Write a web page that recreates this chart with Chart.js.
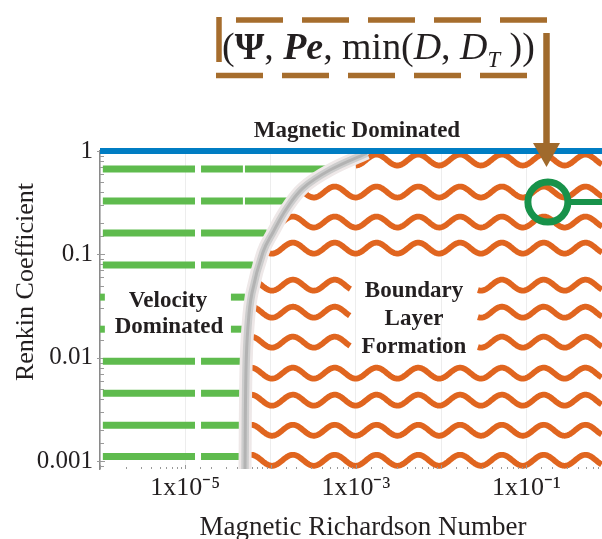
<!DOCTYPE html>
<html><head><meta charset="utf-8">
<script src="https://cdn.jsdelivr.net/npm/chart.js@4.4.1/dist/chart.umd.min.js"></script>
<style>html,body{margin:0;padding:0;background:#fff;} #wrap{width:602px;height:539px;position:relative;}</style>
</head><body><div id="wrap"><canvas id="c"></canvas></div>
<script>
// ---- axis ranges and tick labels ----
const xMin = 1e-6, xMax = 0.77;
const yMin = 0.00084, yMax = 1;
const xTickValues = [1e-5, 1e-3, 1e-1];
const xTickLabels = ['1x10⁻⁵', '1x10⁻³', '1x10⁻¹'];
const yTickValues = [1, 0.1, 0.01, 0.001];
const yTickLabels = ['1', '0.1', '0.01', '0.001'];
const xTitle = 'Magnetic Richardson Number';
const yTitle = 'Renkin Coefficient';

// ---- magnetic dominated boundary ----
const magneticLevel = 1;

// ---- velocity dominated (green dashes) ----
const greenLevels = [0.669, 0.328, 0.161, 0.0788, 0.0386, 0.0189, 0.00927, 0.00454, 0.00223, 0.00111];
const greenSegments = [
  [[1.08e-6, 1.30e-5], [1.53e-5, 4.74e-5], [5.01e-5, 5.0e-4]],
  [[1.08e-6, 1.30e-5], [1.53e-5, 4.74e-5], [5.01e-5, 1.6e-4]],
  [[1.08e-6, 1.30e-5], [1.53e-5, 9.0e-5]],
  [[1.08e-6, 1.30e-5], [1.53e-5, 6.2e-5]],
  [[1.0e-6, 1.14e-6], [3.43e-5, 5.0e-5]],
  [[1.0e-6, 1.14e-6], [3.43e-5, 5.0e-5]],
  [[1.08e-6, 1.30e-5], [1.53e-5, 4.4e-5]],
  [[1.08e-6, 1.30e-5], [1.53e-5, 4.4e-5]],
  [[1.08e-6, 1.30e-5], [1.53e-5, 4.4e-5]],
  [[1.08e-6, 1.30e-5], [1.53e-5, 4.4e-5]]
];

// ---- boundary layer formation (orange waves) ----
const waveLevels = [0.818, 0.401, 0.2055, 0.115, 0.0504, 0.0276, 0.01416, 0.0071, 0.00389, 0.00199, 0.00102];
const waveSegments = [
  [[1.0e-3, xMax]],
  [[2.18e-4, xMax]],
  [[1.26e-4, xMax]],
  [[8.6e-5, xMax]],
  [[6.3e-5, 8.53e-4], [0.027, xMax]],
  [[5.7e-5, 8.53e-4], [0.027, xMax]],
  [[5.3e-5, 8.53e-4], [0.027, xMax]],
  [[5.1e-5, xMax]],
  [[5.1e-5, xMax]],
  [[5.1e-5, xMax]],
  [[5.1e-5, xMax]]
];

// ---- transition curve (gray) ----
const curveX = [1.35e-3, 4.97e-4, 2.40e-4, 1.56e-4, 1.07e-4, 8.15e-5, 6.05e-5, 5.43e-5, 5.15e-5, 5.01e-5];
const curveY = [0.956, 0.655, 0.438, 0.281, 0.164, 0.105, 0.0422, 0.0198, 0.00759, 0.0008];

// ---- marked operating point ----
const markerX = [0.1786];
const markerY = [0.321];
const stemX = [0.3236, xMax];

const SERIF = "'Liberation Serif', 'Times New Roman', serif";
const GREEN = '#5fbb4e', ORANGE = '#e0651f', BLUE = '#007dc3', DARKGREEN = '#18924a', BROWN = '#a66d2d';
const TXT = '#231f20';

function isMajor(v) { const l = Math.log10(v); return Math.abs(l - Math.round(l)) < 1e-6; }
function labelFor(v, vals, labs) {
  const k = vals.findIndex(t => Math.abs(Math.log10(t) - Math.log10(v)) < 1e-6);
  return k >= 0 ? labs[k] : '';
}

const datasets = [];
greenLevels.forEach((lv, i) => greenSegments[i].forEach(([a, b]) => datasets.push({
  data: [{x: a, y: lv}, {x: b, y: lv}], borderColor: GREEN, borderWidth: 7,
  pointRadius: 0, borderCapStyle: 'butt', order: 10
})));
const curveData = curveX.map((v, i) => ({x: v, y: curveY[i]}));
[['#eee8e8', 13], ['#cdcdcd', 7.5], ['#b3b3b3', 3]].forEach(([c, w], j) => datasets.push({
  data: curveData, borderColor: c, borderWidth: w, tension: 0.4, pointRadius: 0, clip: 0, order: 7 - j
}));
datasets.push({data: [{x: xMin, y: magneticLevel}, {x: xMax, y: magneticLevel}], borderColor: BLUE, borderWidth: 6, pointRadius: 0, clip: 10, order: 2});
datasets.push({data: [{x: stemX[0], y: markerY[0]}, {x: stemX[1], y: markerY[0]}], borderColor: DARKGREEN, borderWidth: 6, pointRadius: 0, borderCapStyle: 'butt', order: 1});
datasets.push({data: [{x: markerX[0], y: markerY[0]}], showLine: false, pointRadius: 20, pointHoverRadius: 20,
  pointBorderWidth: 7, pointBorderColor: DARKGREEN, pointBackgroundColor: 'rgba(0,0,0,0)', order: 0});

const wavePlugin = {
  id: 'waves',
  beforeDatasetsDraw(chart) {
    const {ctx, scales: {x, y}, chartArea: ca} = chart;
    const AMP = 5.5, PERIOD = 41.8, PHASE = 272;
    ctx.save();
    ctx.beginPath(); ctx.rect(ca.left, ca.top - 10, ca.width, ca.height + 10); ctx.clip();
    ctx.strokeStyle = ORANGE; ctx.lineWidth = 5.8; ctx.lineJoin = 'round'; ctx.lineCap = 'butt';
    waveLevels.forEach((lv, i) => {
      const py = y.getPixelForValue(lv);
      waveSegments[i].forEach(([a, b]) => {
        const p0 = x.getPixelForValue(a), p1 = x.getPixelForValue(b);
        ctx.beginPath();
        for (let px = p0; px <= p1 + 0.5; px += 1) {
          const yy = py + AMP * Math.cos(2 * Math.PI * (px - PHASE) / PERIOD);
          if (px === p0) ctx.moveTo(px, yy); else ctx.lineTo(px, yy);
        }
        ctx.stroke();
      });
    });
    ctx.restore();
    // inner ticks
    ctx.save();
    ctx.strokeStyle = '#9a9a9a'; ctx.lineWidth = 1;
    y.ticks.forEach(t => {
      const p = Math.round(y.getPixelForValue(t.value)) + 0.5;
      if (p < ca.top || p > ca.bottom) return;
      const m = isMajor(t.value);
      ctx.beginPath(); ctx.moveTo(ca.left - (m ? 3 : 0), p); ctx.lineTo(ca.left + (m ? 5 : 4), p); ctx.stroke();
    });
    x.ticks.forEach(t => {
      const p = Math.round(x.getPixelForValue(t.value)) + 0.5;
      const m = isMajor(t.value);
      ctx.beginPath(); ctx.moveTo(p, ca.bottom); ctx.lineTo(p, ca.bottom - (m ? 4 : 2)); ctx.stroke();
    });
    ctx.restore();
  }
};

const annotPlugin = {
  id: 'annot',
  afterDraw(chart) {
    const ctx = chart.ctx;
    ctx.save();
    ctx.fillStyle = TXT;
    ctx.textBaseline = 'alphabetic';
    ctx.textAlign = 'center';
    // axis titles
    ctx.font = `27px ${SERIF}`;
    ctx.fillText(xTitle, 363, 535);
    ctx.save();
    ctx.translate(33, 282); ctx.rotate(-Math.PI / 2);
    ctx.font = `26px ${SERIF}`;
    ctx.fillText(yTitle, 0, 0);
    ctx.restore();

    ctx.font = `bold 23px ${SERIF}`;
    ctx.fillText('Magnetic Dominated', 357, 137);
    ctx.fillText('Velocity', 168, 307);
    ctx.fillText('Dominated', 169, 333);
    ctx.fillText('Boundary', 414, 297);
    ctx.fillText('Layer', 414, 325);
    ctx.fillText('Formation', 414, 353);

    // formula
    const base = 38;
    const reg = s => `${s}px ${SERIF}`, bold = s => `bold ${s}px ${SERIF}`, bi = s => `italic bold ${s}px ${SERIF}`, it = s => `italic ${s}px ${SERIF}`;
    const pieces = [['(', reg, 1, 0], ['Ψ', bold, 1, 0], [', ', reg, 1, 0], ['Pe', bi, 1, 0], [', ', reg, 1, 0],
      ['min(', reg, 1, 0], ['D', it, 1, 0], [', ', reg, 1, 0], ['D', it, 1, 0], ['T', it, 0.6, 8], [' ))', reg, 1, 0]];
    let w = 0;
    pieces.forEach(([t, f, sc]) => { ctx.font = f(base * sc); w += ctx.measureText(t).width; });
    const size = base * 313 / w;
    let cx = 222;
    ctx.textAlign = 'left';
    pieces.forEach(([t, f, sc, dy]) => { ctx.font = f(size * sc); ctx.fillText(t, cx, 58.5 + dy); cx += ctx.measureText(t).width; });

    // dashed box
    ctx.strokeStyle = BROWN; ctx.lineWidth = 5.5; ctx.lineCap = 'butt';
    ctx.setLineDash([47, 19]);
    ctx.beginPath(); ctx.moveTo(236, 20); ctx.lineTo(548, 20); ctx.stroke();
    ctx.beginPath(); ctx.moveTo(216, 75.5); ctx.lineTo(528, 75.5); ctx.stroke();
    ctx.setLineDash([]);
    ctx.beginPath(); ctx.moveTo(219, 17); ctx.lineTo(219, 62); ctx.stroke();
    // arrow
    ctx.strokeStyle = '#a06a2c'; ctx.fillStyle = '#a06a2c'; ctx.lineWidth = 6.5;
    ctx.beginPath(); ctx.moveTo(546.5, 33); ctx.lineTo(546.5, 146); ctx.stroke();
    ctx.beginPath(); ctx.moveTo(533, 143); ctx.lineTo(560, 143); ctx.lineTo(546.5, 167); ctx.closePath(); ctx.fill();
    ctx.restore();
  }
};

new Chart(document.getElementById('c'), {
  type: 'line',
  data: {datasets},
  plugins: [wavePlugin, annotPlugin],
  options: {
    responsive: true, maintainAspectRatio: false, animation: false, devicePixelRatio: 1,
    layout: {autoPadding: false, padding: {top: 151, right: 0, left: 0, bottom: 0}},
    plugins: {legend: {display: false}, tooltip: {enabled: false}},
    events: [],
    scales: {
      x: {
        type: 'logarithmic', min: xMin, max: xMax,
        afterFit(s) { s.height = 70; s.paddingLeft = 0; s.paddingRight = 0; },
        border: {display: false},
        grid: {drawTicks: false, color: c => (c.tick && isMajor(c.tick.value)) ? 'rgba(0,0,0,0.07)' : 'rgba(0,0,0,0)'},
        ticks: {autoSkip: false, maxRotation: 0, minRotation: 0, padding: 4, color: TXT,
          font: {family: SERIF, size: 26}, callback: v => labelFor(v, xTickValues, xTickLabels)},
        title: {display: false, text: xTitle}
      },
      y: {
        type: 'logarithmic', min: yMin, max: yMax,
        afterFit(s) { s.width = 100; s.paddingTop = 0; s.paddingBottom = 0; },
        border: {display: true, color: '#8a8a8a', width: 1.5},
        grid: {drawTicks: false, color: 'rgba(0,0,0,0)'},
        ticks: {autoSkip: false, padding: 7, color: TXT, font: {family: SERIF, size: 25},
          callback: v => labelFor(v, yTickValues, yTickLabels)},
        title: {display: false, text: yTitle}
      }
    }
  }
});
</script>
</body></html>
